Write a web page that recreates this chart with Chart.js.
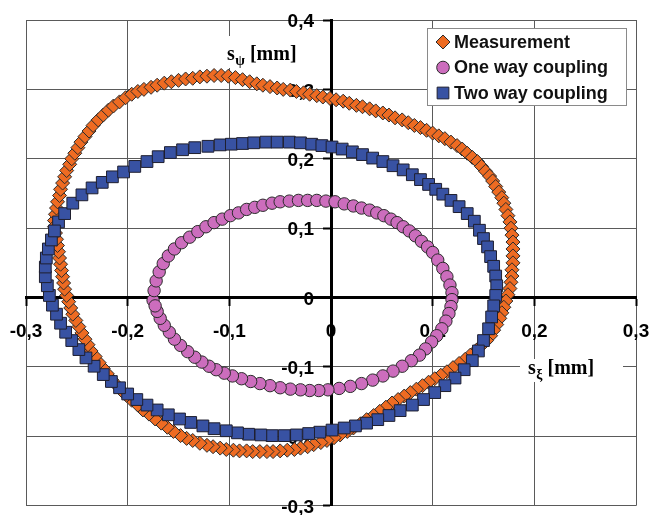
<!DOCTYPE html>
<html>
<head>
<meta charset="utf-8">
<script src="https://cdn.jsdelivr.net/npm/chart.js@4.4.0/dist/chart.umd.min.js"></script>
<style>
  html, body { margin: 0; padding: 0; background: #fff; }
  #wrap { width: 651px; height: 515px; }
  canvas { display: block; }
</style>
</head>
<body>
<div id="wrap"><canvas id="orbit" width="651" height="515"></canvas></div>
<script>
// Axis ticks (values and the comma-decimal labels drawn for them)
const xTickValues = [-0.3, -0.2, -0.1, 0, 0.1, 0.2, 0.3];
const xTickLabels = ['-0,3', '-0,2', '-0,1', '0', '0,1', '0,2', '0,3'];
const yTickValues = [-0.3, -0.2, -0.1, 0, 0.1, 0.2, 0.3, 0.4];
const yTickLabels = ['-0,3', '-0,2', '-0,1', '0', '0,1', '0,2', '0,3', '0,4'];

const seriesNames = ['Measurement', 'One way coupling', 'Two way coupling'];

// Shaft orbit s_xi / s_psi [mm], one point per sample, clockwise
const measurementPoints = [
  [-0.272,0.111],[-0.271,0.120],[-0.270,0.129],[-0.269,0.138],[-0.267,0.147],[-0.266,0.156],[-0.264,0.165],[-0.262,0.174],
  [-0.260,0.183],[-0.257,0.192],[-0.255,0.200],[-0.252,0.208],[-0.249,0.216],[-0.246,0.224],[-0.242,0.232],[-0.238,0.240],
  [-0.234,0.248],[-0.229,0.256],[-0.224,0.263],[-0.219,0.270],[-0.214,0.276],[-0.208,0.282],[-0.202,0.288],[-0.196,0.293],
  [-0.190,0.297],[-0.184,0.300],[-0.177,0.303],[-0.171,0.306],[-0.164,0.309],[-0.157,0.311],[-0.150,0.313],[-0.143,0.315],
  [-0.136,0.316],[-0.129,0.318],[-0.122,0.319],[-0.115,0.320],[-0.108,0.320],[-0.101,0.319],[-0.094,0.317],[-0.087,0.314],
  [-0.080,0.311],[-0.073,0.308],[-0.067,0.306],[-0.060,0.304],[-0.053,0.302],[-0.047,0.300],[-0.040,0.299],[-0.034,0.297],
  [-0.027,0.295],[-0.021,0.293],[-0.014,0.291],[-0.008,0.289],[-0.001,0.287],[0.005,0.285],[0.012,0.283],[0.018,0.280],
  [0.025,0.277],[0.031,0.275],[0.038,0.272],[0.044,0.269],[0.051,0.266],[0.057,0.263],[0.063,0.259],[0.070,0.256],
  [0.076,0.252],[0.082,0.248],[0.088,0.245],[0.094,0.241],[0.100,0.237],[0.106,0.233],[0.112,0.229],[0.118,0.224],
  [0.124,0.219],[0.129,0.214],[0.134,0.208],[0.139,0.202],[0.144,0.196],[0.148,0.189],[0.152,0.182],[0.156,0.175],
  [0.159,0.168],[0.162,0.160],[0.165,0.152],[0.168,0.144],[0.170,0.136],[0.172,0.127],[0.174,0.118],[0.176,0.109],
  [0.177,0.100],[0.178,0.090],[0.179,0.080],[0.179,0.070],[0.179,0.060],[0.179,0.050],[0.178,0.040],[0.178,0.031],
  [0.177,0.022],[0.176,0.013],[0.174,0.004],[0.172,-0.005],[0.170,-0.014],[0.168,-0.022],[0.166,-0.030],[0.163,-0.039],
  [0.160,-0.047],[0.157,-0.055],[0.153,-0.062],[0.148,-0.069],[0.143,-0.076],[0.137,-0.083],[0.132,-0.089],[0.126,-0.095],
  [0.120,-0.101],[0.114,-0.107],[0.108,-0.112],[0.102,-0.117],[0.096,-0.122],[0.090,-0.127],[0.084,-0.132],[0.078,-0.137],
  [0.072,-0.142],[0.066,-0.147],[0.060,-0.152],[0.054,-0.158],[0.048,-0.164],[0.042,-0.170],[0.035,-0.176],[0.029,-0.182],
  [0.022,-0.188],[0.016,-0.193],[0.009,-0.198],[0.003,-0.202],[-0.004,-0.206],[-0.010,-0.209],[-0.017,-0.212],[-0.023,-0.215],
  [-0.030,-0.217],[-0.036,-0.219],[-0.043,-0.220],[-0.050,-0.221],[-0.057,-0.222],[-0.063,-0.222],[-0.070,-0.222],[-0.077,-0.222],
  [-0.083,-0.221],[-0.090,-0.221],[-0.096,-0.220],[-0.103,-0.219],[-0.109,-0.217],[-0.116,-0.215],[-0.122,-0.213],[-0.129,-0.210],
  [-0.136,-0.206],[-0.142,-0.203],[-0.148,-0.199],[-0.155,-0.193],[-0.161,-0.187],[-0.167,-0.181],[-0.173,-0.175],[-0.179,-0.168],
  [-0.185,-0.162],[-0.190,-0.155],[-0.196,-0.148],[-0.201,-0.141],[-0.206,-0.134],[-0.211,-0.126],[-0.216,-0.118],[-0.220,-0.110],
  [-0.224,-0.102],[-0.228,-0.094],[-0.232,-0.085],[-0.236,-0.077],[-0.239,-0.068],[-0.242,-0.060],[-0.245,-0.051],[-0.248,-0.042],
  [-0.251,-0.033],[-0.254,-0.024],[-0.256,-0.015],[-0.258,-0.006],[-0.260,0.003],[-0.262,0.012],[-0.263,0.021],[-0.264,0.030],
  [-0.265,0.039],[-0.266,0.048],[-0.267,0.057],[-0.268,0.066],[-0.269,0.075],[-0.270,0.084],[-0.271,0.093],[-0.272,0.102]
];

const oneWayPoints = [
  [-0.175,-0.004],[-0.174,0.010],[-0.172,0.024],[-0.169,0.037],[-0.165,0.049],[-0.160,0.060],[-0.154,0.070],[-0.147,0.079],
  [-0.139,0.087],[-0.131,0.095],[-0.123,0.102],[-0.115,0.108],[-0.107,0.113],[-0.099,0.118],[-0.091,0.122],[-0.083,0.127],
  [-0.075,0.130],[-0.067,0.133],[-0.058,0.136],[-0.050,0.138],[-0.041,0.139],[-0.032,0.140],[-0.023,0.140],[-0.014,0.140],
  [-0.005,0.139],[0.004,0.138],[0.013,0.135],[0.022,0.132],[0.030,0.129],[0.038,0.126],[0.045,0.122],[0.052,0.118],
  [0.059,0.113],[0.065,0.108],[0.071,0.102],[0.077,0.096],[0.083,0.089],[0.089,0.081],[0.095,0.073],[0.100,0.065],
  [0.105,0.054],[0.110,0.042],[0.114,0.030],[0.117,0.018],[0.119,0.007],[0.119,-0.003],[0.118,-0.013],[0.116,-0.023],
  [0.113,-0.034],[0.109,-0.045],[0.104,-0.055],[0.099,-0.064],[0.093,-0.074],[0.087,-0.083],[0.079,-0.091],[0.070,-0.099],
  [0.061,-0.106],[0.051,-0.113],[0.041,-0.119],[0.030,-0.124],[0.019,-0.128],[0.008,-0.131],[-0.003,-0.133],[-0.012,-0.134],
  [-0.021,-0.134],[-0.030,-0.133],[-0.040,-0.132],[-0.050,-0.130],[-0.060,-0.127],[-0.070,-0.124],[-0.079,-0.121],[-0.088,-0.117],
  [-0.097,-0.113],[-0.105,-0.109],[-0.113,-0.104],[-0.120,-0.099],[-0.127,-0.093],[-0.134,-0.086],[-0.141,-0.078],[-0.148,-0.069],
  [-0.154,-0.060],[-0.159,-0.050],[-0.164,-0.040],[-0.168,-0.030],[-0.171,-0.020],[-0.173,-0.012]
];

const twoWayPoints = [
  [-0.268,0.109],[-0.262,0.121],[-0.254,0.136],[-0.245,0.148],[-0.235,0.158],[-0.225,0.166],[-0.215,0.174],[-0.204,0.181],
  [-0.193,0.189],[-0.181,0.196],[-0.170,0.203],[-0.158,0.209],[-0.146,0.213],[-0.134,0.216],[-0.121,0.218],[-0.109,0.220],
  [-0.098,0.221],[-0.087,0.222],[-0.076,0.223],[-0.064,0.224],[-0.053,0.224],[-0.041,0.224],[-0.030,0.223],[-0.019,0.221],
  [-0.009,0.219],[0.001,0.217],[0.011,0.214],[0.021,0.210],[0.031,0.206],[0.041,0.201],[0.051,0.196],[0.061,0.190],
  [0.071,0.184],[0.080,0.177],[0.088,0.170],[0.096,0.163],[0.103,0.156],[0.110,0.149],[0.118,0.140],[0.126,0.131],
  [0.134,0.121],[0.141,0.110],[0.146,0.097],[0.150,0.085],[0.154,0.073],[0.157,0.059],[0.160,0.045],[0.162,0.031],
  [0.163,0.017],[0.162,0.003],[0.160,-0.012],[0.158,-0.028],[0.155,-0.045],[0.150,-0.062],[0.145,-0.077],[0.139,-0.091],
  [0.131,-0.104],[0.122,-0.116],[0.112,-0.127],[0.102,-0.137],[0.091,-0.147],[0.080,-0.155],[0.068,-0.163],[0.057,-0.170],
  [0.046,-0.176],[0.035,-0.181],[0.024,-0.185],[0.013,-0.188],[0.001,-0.191],[-0.011,-0.194],[-0.022,-0.196],[-0.034,-0.198],
  [-0.046,-0.199],[-0.058,-0.199],[-0.069,-0.198],[-0.081,-0.197],[-0.092,-0.195],[-0.103,-0.192],[-0.115,-0.189],[-0.126,-0.185],
  [-0.138,-0.180],[-0.149,-0.175],[-0.160,-0.169],[-0.171,-0.162],[-0.181,-0.155],[-0.191,-0.147],[-0.200,-0.139],[-0.208,-0.130],
  [-0.216,-0.121],[-0.224,-0.111],[-0.233,-0.099],[-0.241,-0.087],[-0.248,-0.075],[-0.255,-0.062],[-0.261,-0.050],[-0.266,-0.037],
  [-0.270,-0.024],[-0.274,-0.011],[-0.277,0.003],[-0.279,0.017],[-0.281,0.030],[-0.281,0.044],[-0.280,0.057],[-0.278,0.070],
  [-0.275,0.083],[-0.272,0.096]
];

const toXY = pts => pts.map(([x, y]) => ({ x, y }));

const LABEL_FONT = 'bold 19px "Liberation Sans", Arial, sans-serif';
const TITLE_FONT = 'bold 20px "Liberation Serif", "Times New Roman", serif';
const SUB_FONT = 'bold 14px "Liberation Serif", "Times New Roman", serif';

function drawMarker(ctx, style, cx, cy, r) {
  ctx.beginPath();
  if (style === 'rectRot') {
    ctx.moveTo(cx - r, cy); ctx.lineTo(cx, cy - r); ctx.lineTo(cx + r, cy); ctx.lineTo(cx, cy + r); ctx.closePath();
  } else if (style === 'rect') {
    const h = r * Math.SQRT1_2;
    ctx.rect(cx - h, cy - h, 2 * h, 2 * h);
  } else {
    ctx.arc(cx, cy, r, 0, Math.PI * 2);
  }
  ctx.fill();
  ctx.stroke();
}

// Axis title "s" + subscript + " [mm]" on a white box
function drawAxisTitle(ctx, main, sub, rest, x, baseline, box) {
  ctx.fillStyle = '#fff';
  ctx.fillRect(box[0], box[1], box[2], box[3]);
  ctx.fillStyle = '#000';
  ctx.textAlign = 'left';
  ctx.textBaseline = 'alphabetic';
  ctx.font = TITLE_FONT;
  ctx.fillText(main, x, baseline);
  let cx = x + ctx.measureText(main).width + 0.5;
  ctx.font = SUB_FONT;
  ctx.fillText(sub, cx, baseline + 5);
  cx += ctx.measureText(sub).width;
  ctx.font = TITLE_FONT;
  ctx.fillText(rest, cx, baseline);
}

// Tick labels next to the crossing axes and the two axis titles
const axisLabels = {
  id: 'axisLabels',
  beforeDatasetsDraw(chart) {
    const { ctx, scales: { x, y } } = chart;
    const x0 = x.getPixelForValue(0);
    const y0 = y.getPixelForValue(0);
    ctx.save();
    ctx.fillStyle = '#000';
    ctx.font = LABEL_FONT;
    ctx.textBaseline = 'middle';
    ctx.textAlign = 'center';
    x.ticks.forEach((t, i) => ctx.fillText(xTickLabels[i], x.getPixelForValue(t.value), y0 + 34));
    ctx.textAlign = 'right';
    y.ticks.forEach((t, i) => ctx.fillText(yTickLabels[i], x0 - 17, y.getPixelForValue(t.value) + 2));
    drawAxisTitle(ctx, 's', '\u03C8', ' [mm]', 227, 60, [219, 36, 100, 32]);
    drawAxisTitle(ctx, 's', '\u03BE', ' [mm]', 528, 374, [520, 359, 103, 23]);
    ctx.restore();
  }
};

// Boxed legend inside the plot, top right
const boxedLegend = {
  id: 'boxedLegend',
  afterDatasetsDraw(chart) {
    const { ctx } = chart;
    ctx.save();
    ctx.fillStyle = '#fff';
    ctx.strokeStyle = '#8a8a8a';
    ctx.lineWidth = 1;
    ctx.fillRect(427.5, 28.5, 199, 77);
    ctx.strokeRect(427.5, 28.5, 199, 77);
    chart.data.datasets.forEach((ds, i) => {
      const cy = 42 + i * 25.5;
      ctx.fillStyle = ds.backgroundColor;
      ctx.strokeStyle = ds.borderColor;
      ctx.lineWidth = ds.borderWidth;
      drawMarker(ctx, ds.pointStyle, 443, cy, ds.pointStyle === 'rectRot' ? 7 : (ds.pointStyle === 'rect' ? 8.3 : 6.3));
      ctx.fillStyle = '#111';
      ctx.font = 'bold 18px "Liberation Sans", Arial, sans-serif';
      ctx.textAlign = 'left';
      ctx.textBaseline = 'middle';
      ctx.fillText(ds.label, 454, cy + 1);
    });
    ctx.restore();
  }
};

const gridColor = c => (c.tick && c.tick.value === 0 ? '#000' : '#5a5a5a');

new Chart(document.getElementById('orbit'), {
  type: 'scatter',
  data: {
    datasets: [
      {
        label: seriesNames[0], data: toXY(measurementPoints), order: 3,
        pointStyle: 'rectRot', pointRadius: 7, backgroundColor: '#EE6B22', borderColor: '#2b2b2b', borderWidth: 1
      },
      {
        label: seriesNames[1], data: toXY(oneWayPoints), order: 2,
        pointStyle: 'circle', pointRadius: 6.2, backgroundColor: '#CC6DBD', borderColor: '#2b2b2b', borderWidth: 1
      },
      {
        label: seriesNames[2], data: toXY(twoWayPoints), order: 1,
        pointStyle: 'rect', pointRadius: 8.3, backgroundColor: '#3852A3', borderColor: '#1f1f2f', borderWidth: 1
      }
    ]
  },
  options: {
    responsive: false,
    animation: false,
    layout: { padding: { left: 26, right: 15, top: 20, bottom: 5 } },
    plugins: { legend: { display: false }, tooltip: { enabled: false } },
    scales: {
      x: {
        type: 'linear', min: -0.3, max: 0.3, position: { y: 0 },
        afterBuildTicks: s => { s.ticks = xTickValues.map(v => ({ value: v })); },
        ticks: { display: false },
        grid: { color: gridColor, lineWidth: 1, drawTicks: true, tickLength: 7, tickColor: '#000', tickWidth: 2 },
        border: { display: true, color: '#000', width: 3 }
      },
      y: {
        type: 'linear', min: -0.3, max: 0.4, position: { x: 0 },
        afterBuildTicks: s => { s.ticks = yTickValues.map(v => ({ value: v })); },
        ticks: { display: false },
        grid: { color: gridColor, lineWidth: 1, drawTicks: true, tickLength: 7, tickColor: '#000', tickWidth: 2 },
        border: { display: true, color: '#000', width: 3 }
      }
    }
  },
  plugins: [axisLabels, boxedLegend]
});
</script>
</body>
</html>
